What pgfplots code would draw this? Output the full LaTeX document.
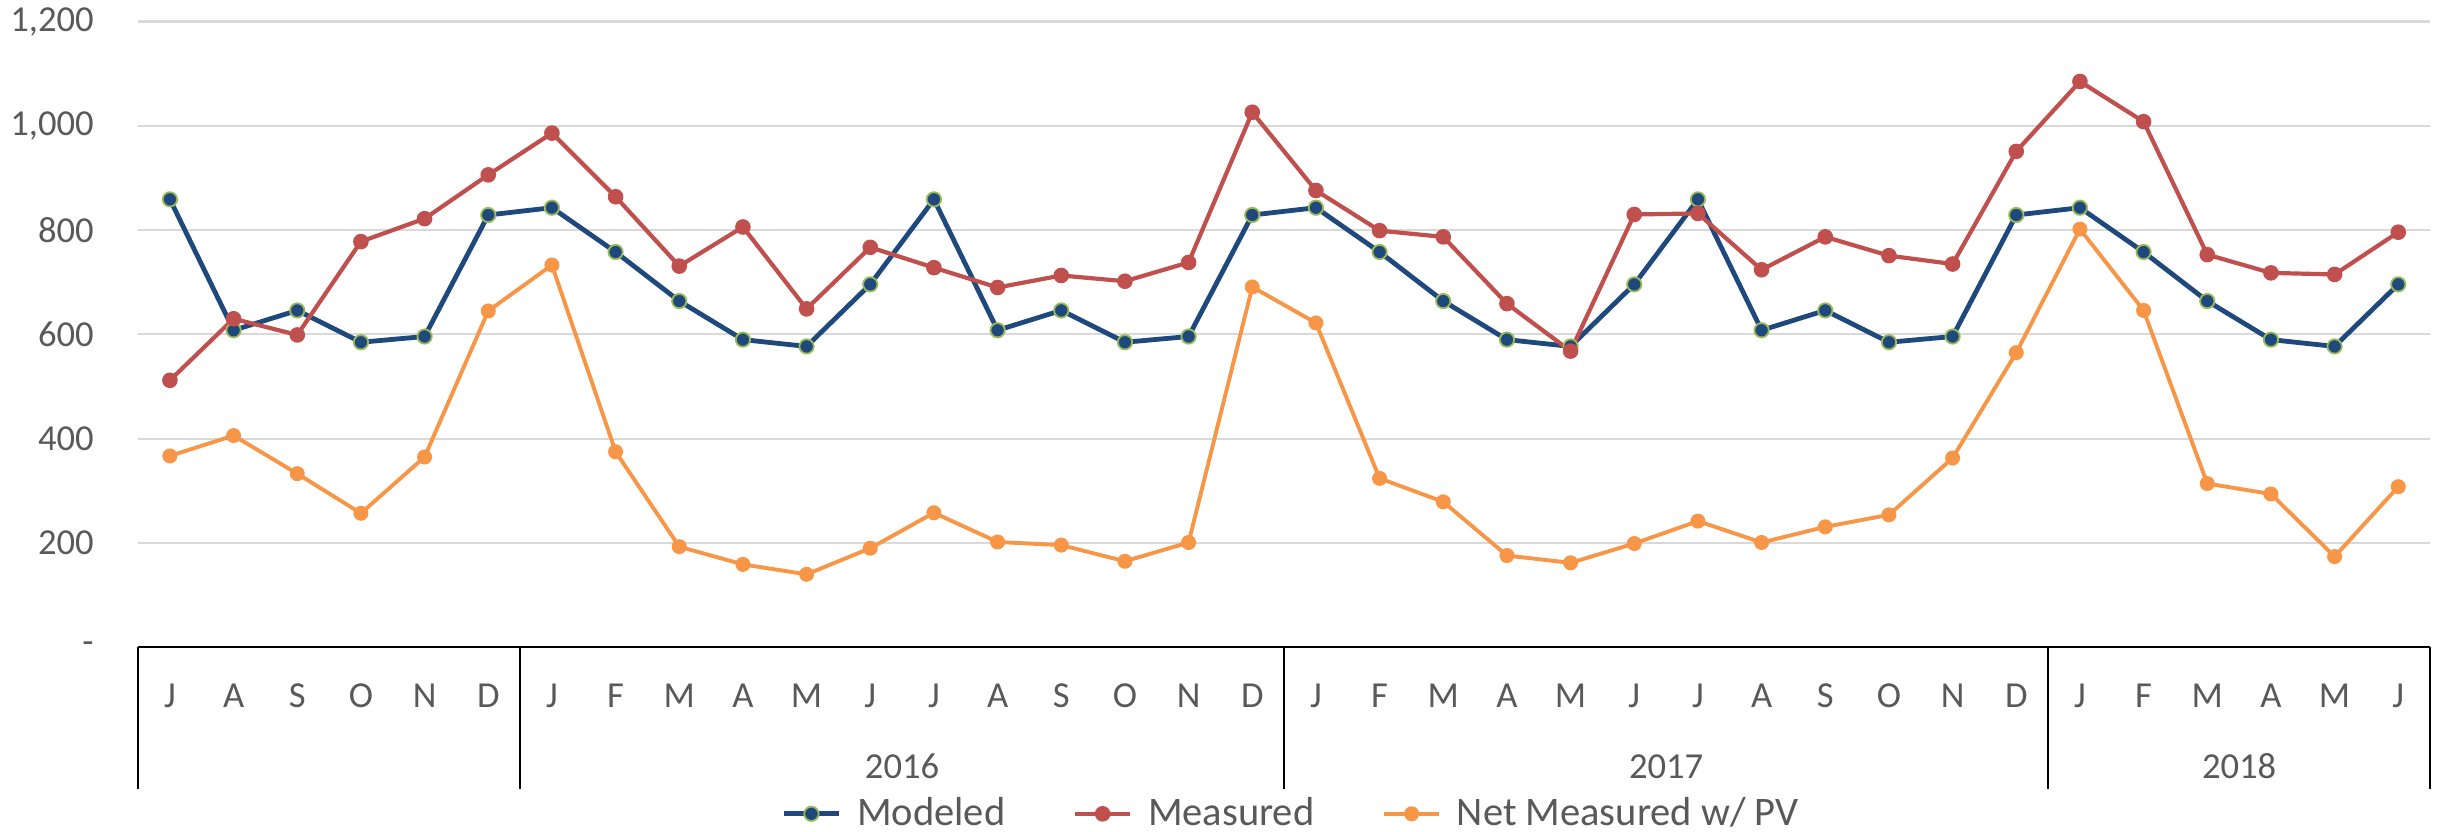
\documentclass[border=0pt]{standalone}
\usepackage{pgfplots}
\pgfplotsset{compat=1.18}
\usepackage{pgfplotstable}
\usepackage{fontspec}
\setmainfont{Carlito}
\definecolor{cblue}{HTML}{1F497D}
\definecolor{cred}{HTML}{C0504D}
\definecolor{corange}{HTML}{F79646}
\definecolor{cgreen}{HTML}{9BBB59}
\definecolor{cgrid}{HTML}{D9D9D9}
\definecolor{ctext}{HTML}{595959}

\pgfplotstableread{
x modeled measured net
0 859 512 367
1 608 630 406
2 646 599 333
3 585 778 257
4 596 822 365
5 829 906 645
6 843 986 733
7 758 864 375
8 664 731 193
9 590 806 159
10 577 649 140
11 696 767 190
12 859 728 258
13 608 690 202
14 646 713 196
15 585 702 165
16 596 738 201
17 829 1026 691
18 843 876 622
19 758 799 324
20 664 787 279
21 590 659 176
22 577 568 162
23 696 830 199
24 859 832 242
25 608 724 201
26 646 787 231
27 585 751 254
28 596 735 363
29 829 951 565
30 843 1085 802
31 758 1008 646
32 664 753 314
33 590 718 294
34 577 715 174
35 696 796 308
}\datatable

\begin{document}
\begin{tikzpicture}
\begin{axis}[
  at={(0pt,0pt)}, anchor=south west,
  scale only axis, width=764pt, height=208.6pt,
  xmin=-0.5, xmax=35.5, ymin=0, ymax=1200,
  clip=false,
  axis line style={draw=none},
  ymajorgrids, grid style={cgrid, line width=0.7pt},
  ytick={0,200,...,1200},
  yticklabels={{-\hspace{5.9pt}},200,400,600,800,{1,000},{1,200}},
  yticklabel style={anchor=east, inner sep=0pt, xshift=-14.6pt, font=\fontsize{12.2}{14}\selectfont, text=ctext},
  xtick={0,...,35},
  xticklabels={J,A,S,O,N,D,J,F,M,A,M,J,J,A,S,O,N,D,J,F,M,A,M,J,J,A,S,O,N,D,J,F,M,A,M,J},
  xticklabel style={anchor=base, inner sep=0pt, yshift=-20pt, font=\fontsize{12.2}{14}\selectfont, text=ctext},
  major tick length=0pt,
  legend columns=3,
  legend style={draw=none, fill=none, at={(0.5,0)}, anchor=center, yshift=-55.5pt, xshift=2pt,
    font=\fontsize{13.5}{16}\selectfont, text=ctext, nodes={inner sep=0pt},
    /tikz/every odd column/.append style={column sep=5.3pt},
    /tikz/every even column/.append style={column sep=22.6pt}},
  legend image code/.code={\draw[mark repeat=2,mark phase=2] plot coordinates {(0pt,0pt) (9.15pt,0pt) (18.3pt,0pt)};},
]
\addplot[cblue, line width=1.6pt, line join=round, mark=*, mark size=2.4pt,
  mark options={fill=cblue, draw=cgreen, line width=0.6pt}] table[x=x, y=modeled] {\datatable};
\addlegendentry{Modeled}
\addplot[cred, line width=1.4pt, line join=round, mark=*, mark size=2.35pt,
  mark options={fill=cred, draw=cred, line width=0.5pt}] table[x=x, y=measured] {\datatable};
\addlegendentry{Measured}
\addplot[corange, line width=1.3pt, line join=round, mark=*, mark size=2.25pt,
  mark options={fill=corange, draw=corange, line width=0.5pt}] table[x=x, y=net] {\datatable};
\addlegendentry{Net Measured w/ PV}

\draw[black, line width=0.7pt] (axis cs:-0.5,0) -- (axis cs:35.5,0);
\draw[black, line width=0.6pt] (axis cs:-0.5,0) -- ([yshift=-47.3pt]axis cs:-0.5,0);
\draw[black, line width=0.6pt] (axis cs:5.5,0) -- ([yshift=-47.3pt]axis cs:5.5,0);
\draw[black, line width=0.6pt] (axis cs:17.5,0) -- ([yshift=-47.3pt]axis cs:17.5,0);
\draw[black, line width=0.6pt] (axis cs:29.5,0) -- ([yshift=-47.3pt]axis cs:29.5,0);
\draw[black, line width=0.6pt] (axis cs:35.5,0) -- ([yshift=-47.3pt]axis cs:35.5,0);
\node[anchor=base, inner sep=0pt, text=ctext, font=\fontsize{12.2}{14}\selectfont] at ([yshift=-43.7pt]axis cs:11.5,0) {2016};
\node[anchor=base, inner sep=0pt, text=ctext, font=\fontsize{12.2}{14}\selectfont] at ([yshift=-43.7pt]axis cs:23.5,0) {2017};
\node[anchor=base, inner sep=0pt, text=ctext, font=\fontsize{12.2}{14}\selectfont] at ([yshift=-43.7pt]axis cs:32.5,0) {2018};
\end{axis}
\pgfresetboundingbox
\useasboundingbox (-46.03pt,-61.23pt) rectangle (768.3pt,215.77pt);
\end{tikzpicture}
\end{document}
